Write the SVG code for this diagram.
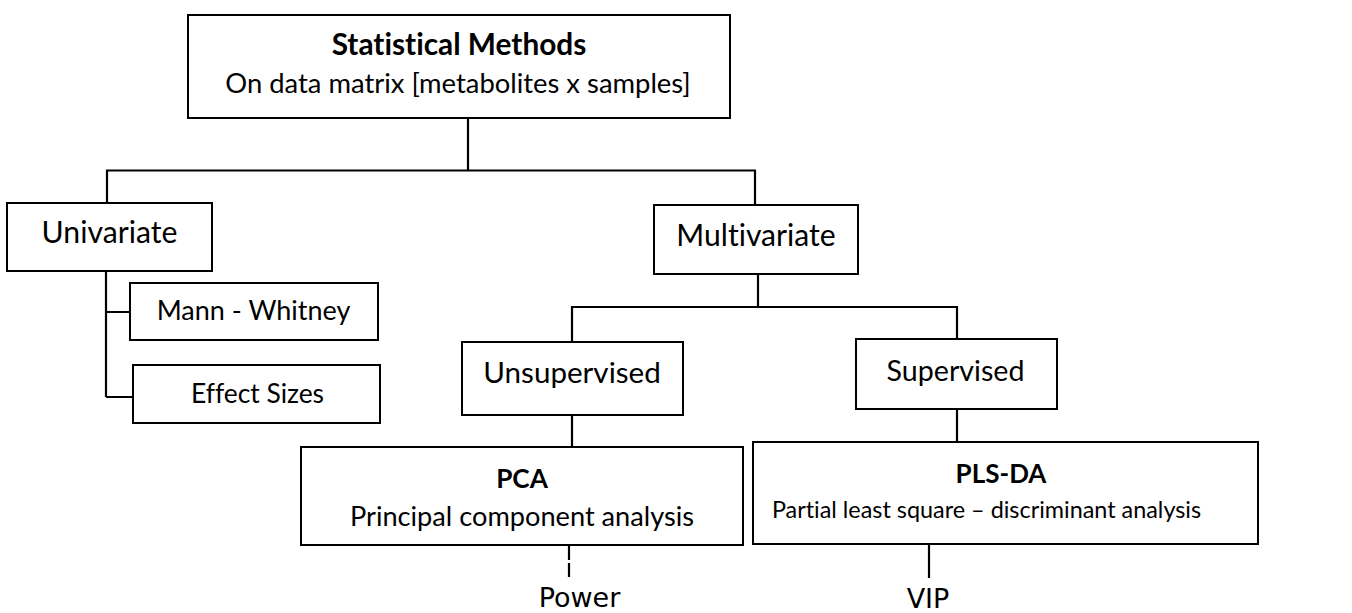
<svg xmlns="http://www.w3.org/2000/svg" width="1352" height="613" viewBox="0 0 1352 613">
<style>
.box{fill:#fff;stroke:#000;stroke-width:2}
.ln{fill:none;stroke:#000;stroke-width:2.2}
.t{font-family:Lato,"Open Sans",sans-serif;fill:#000;text-anchor:middle;font-variant-ligatures:none}
.b{font-weight:bold}
.cm{font-family:"DejaVu Sans",sans-serif;font-size:27px;fill:#000;text-anchor:middle}
</style>
<rect width="1352" height="613" fill="#fff"/>
<g id="connectors">
<path class="ln" d="M468,118 V170.5"/>
<path class="ln" d="M107,202 V170.5 H755 V205"/>
<path class="ln" d="M106,271 V397 M106,312 H130 M106,397 H133"/>
<path class="ln" d="M758,274 V307"/>
<path class="ln" d="M572,342 V307 H957 V339"/>
<path class="ln" d="M572,415 V447"/>
<path class="ln" d="M957,409 V442"/>
<path class="ln" d="M569,546 V578" stroke-dasharray="14 3"/>
<path class="ln" d="M929,545 V578"/>
</g>
<g id="statistical-methods">
<rect class="box" x="188" y="15" width="542" height="103"/>
<text class="t b" x="459" y="55" font-size="29.8">Statistical Methods</text>
<text class="t" x="458" y="93" font-size="27.4">On data matrix [metabolites x samples]</text>
</g>
<g id="univariate">
<rect class="box" x="7" y="203" width="205" height="68"/>
<text class="t" x="109.5" y="243" font-size="30.2">Univariate</text>
</g>
<g id="mann-whitney">
<rect class="box" x="130" y="283" width="248" height="57"/>
<text class="t" x="253.5" y="320" font-size="27">Mann - Whitney</text>
</g>
<g id="effect-sizes">
<rect class="box" x="133" y="365" width="247" height="58"/>
<text class="t" x="257.5" y="403" font-size="26.4">Effect Sizes</text>
</g>
<g id="multivariate">
<rect class="box" x="654" y="205" width="204" height="69"/>
<text class="t" x="756" y="246" font-size="30.1">Multivariate</text>
</g>
<g id="unsupervised">
<rect class="box" x="462" y="342" width="221" height="73"/>
<text class="t" x="572" y="383" font-size="29.6">Unsupervised</text>
</g>
<g id="supervised">
<rect class="box" x="856" y="339" width="201" height="70"/>
<text class="t" x="955.5" y="381" font-size="28.6">Supervised</text>
</g>
<g id="pca">
<rect class="box" x="301" y="447" width="442" height="98"/>
<text class="t b" x="522" y="488" font-size="26.2">PCA</text>
<text class="t" x="522" y="526" font-size="27.2">Principal component analysis</text>
</g>
<g id="pls-da">
<rect class="box" x="753" y="442" width="505" height="102"/>
<text class="t b" x="1001" y="483" font-size="26">PLS-DA</text>
<text class="t" x="986.5" y="518" font-size="23.4">Partial least square – discriminant analysis</text>
</g>
<g id="power">
<text class="cm" x="579.5" y="607">Power</text>
</g>
<g id="vip">
<text class="cm" x="928" y="608">VIP</text>
</g>
</svg>
